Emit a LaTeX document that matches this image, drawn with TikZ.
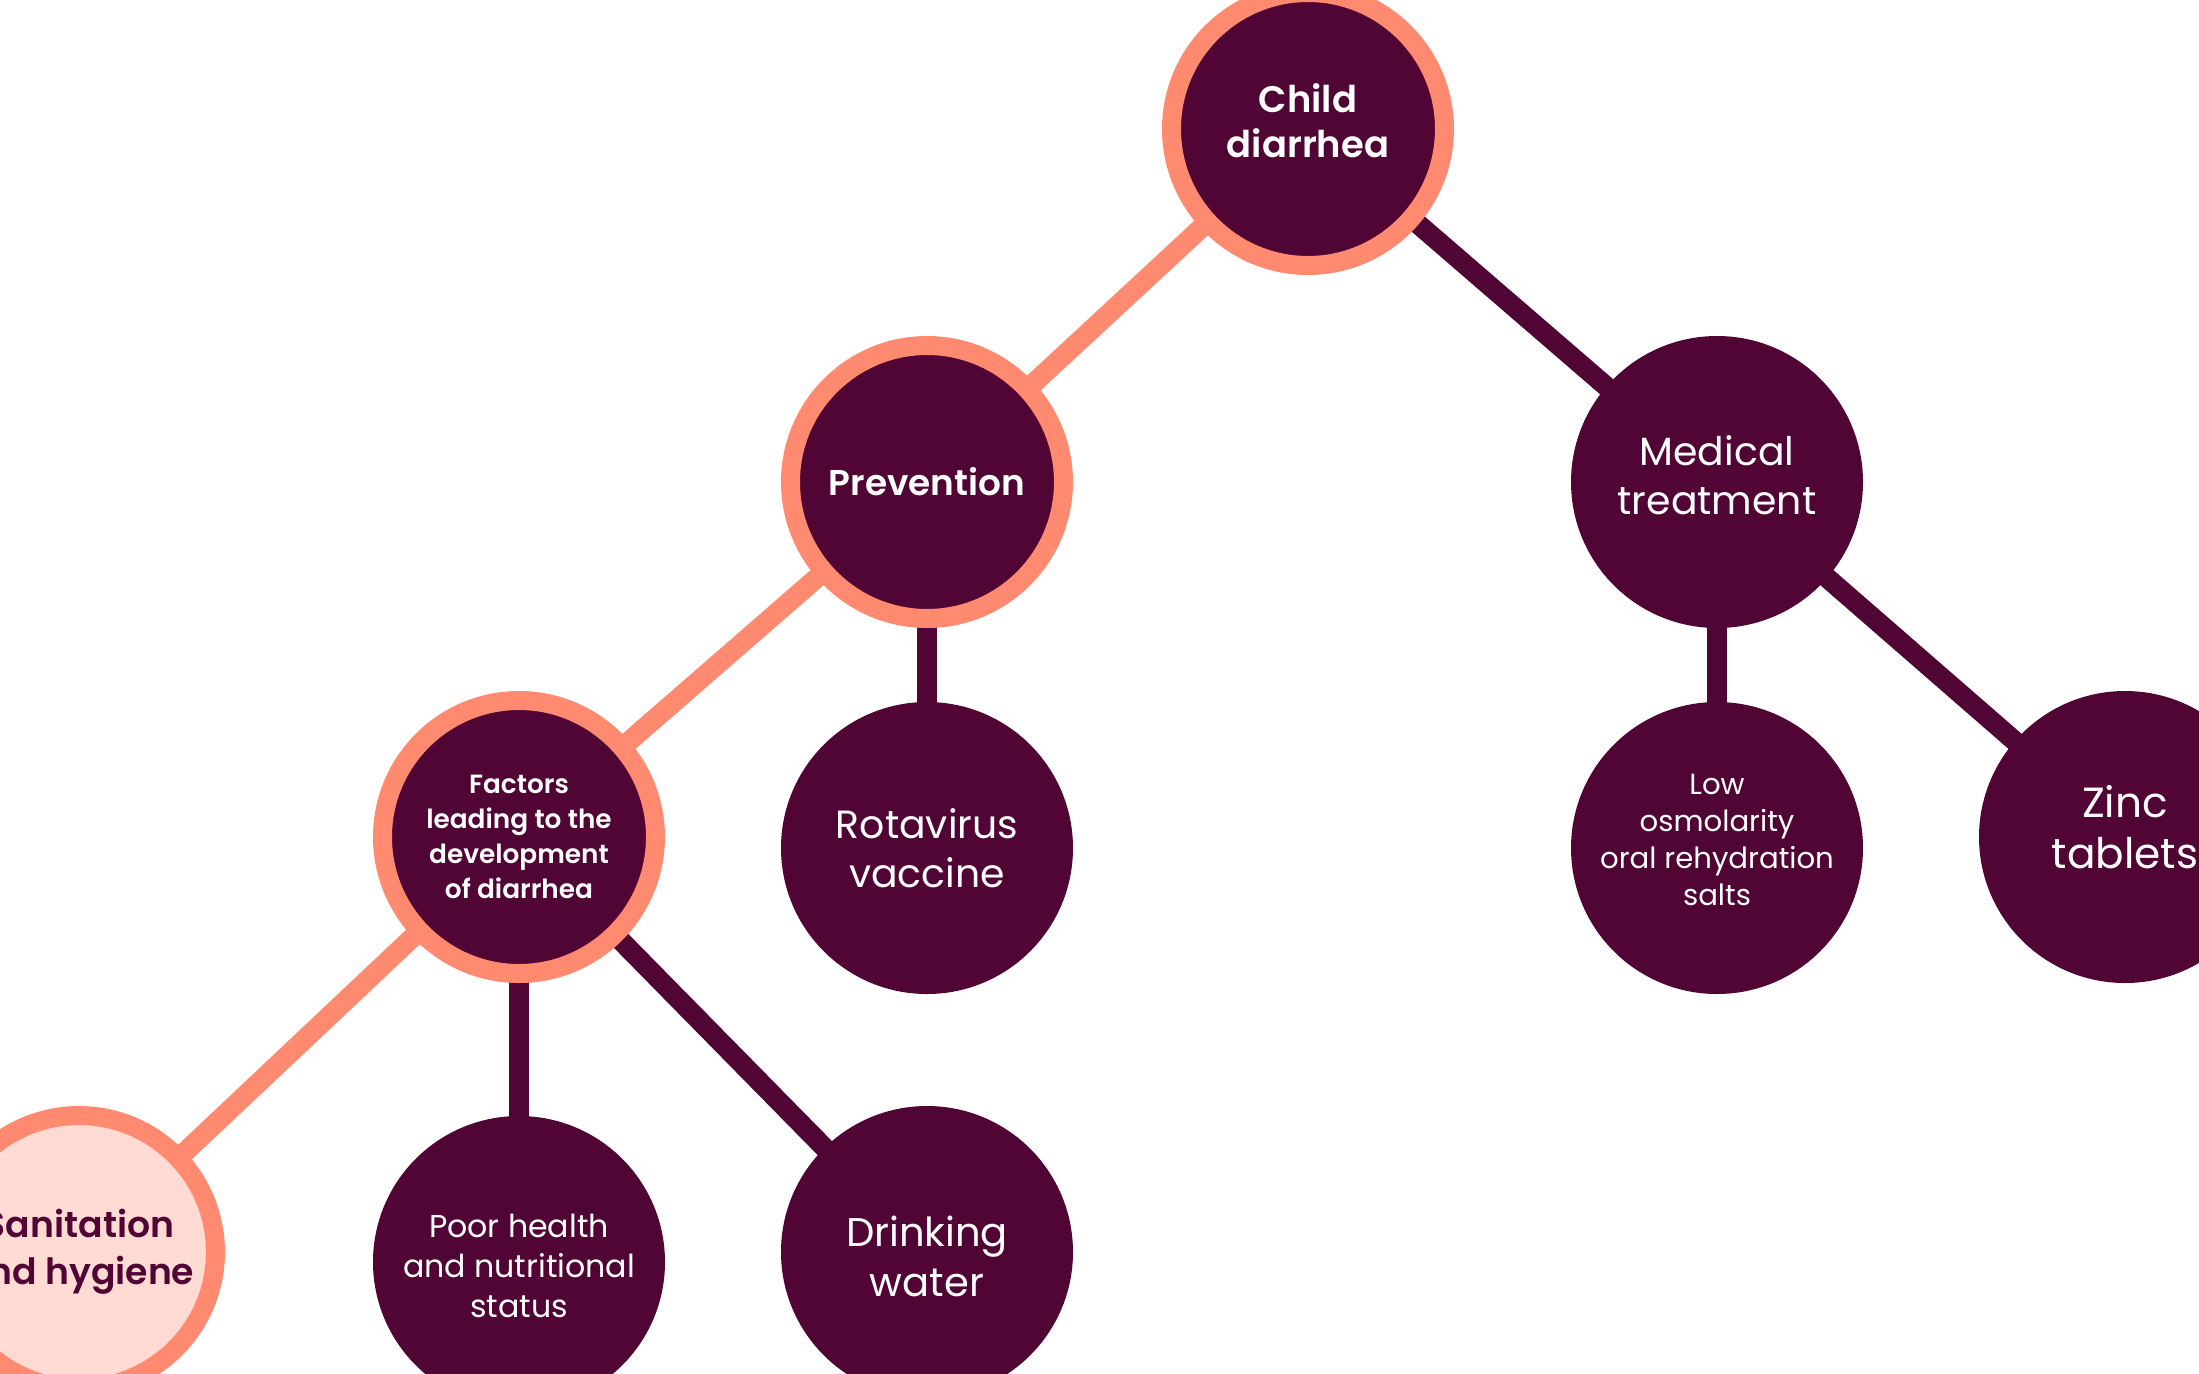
\documentclass[tikz,border=0pt]{standalone}
\usepackage{fontspec}
\setmainfont{Poppins}[BoldFont={Poppins SemiBold}]
\usetikzlibrary{positioning,backgrounds}
\definecolor{plum}{HTML}{500535}
\definecolor{salmon}{HTML}{FF8A70}
\definecolor{blush}{HTML}{FFDBD4}

\begin{document}
\begin{tikzpicture}[on grid,node distance=3.6cm,
    hub/.style={circle,draw=salmon,line width=0.19cm,fill=plum,text=white,
                minimum size=2.73cm,inner sep=0pt,align=center},
    leaf/.style={circle,fill=plum,text=white,minimum size=2.92cm,
                 inner sep=0pt,align=center},
    goal/.style={hub,fill=blush,text=plum},
    hot/.style={draw=salmon,line width=0.2cm},
    cold/.style={draw=plum,line width=0.2cm}]

        \useasboundingbox (0,0) rectangle (21.99,-13.73);

        \node[hub,font=\fontsize{10.5}{13}\selectfont\bfseries] (child) at (13.08,-1.29) {Child\\diarrhea\\[-0.29cm]};
        \node[hub,font=\fontsize{10.2}{13}\selectfont\bfseries] (prev) [below left=3.53cm and 3.81cm of child] {Prevention};
        \node[leaf,font=\fontsize{11.2}{14}\selectfont] (med) [below right=3.53cm and 4.09cm of child] {Medical\\treatment\\[-0.35cm]};

        \node[hub,font=\fontsize{7.5}{10}\selectfont\bfseries] (fact) [below left=3.55cm and 4.08cm of prev] {Factors\\leading to the\\development\\of diarrhea};
        \node[leaf,font=\fontsize{11.2}{14}\selectfont] (rota) [below=3.66cm of prev] {Rotavirus\\vaccine};
        \node[leaf,font=\fontsize{8.3}{10.5}\selectfont] (ors) [below=3.66cm of med] {Low\\osmolarity\\oral rehydration\\salts\\[-0.2cm]};
        \node[leaf,font=\fontsize{12}{14.5}\selectfont] (zinc) [below right=3.55cm and 4.08cm of med] {Zinc\\tablets\\[-0.3cm]};

        \node[goal,font=\fontsize{10.3}{13.5}\selectfont\bfseries] (sani) [below left=4.15cm and 4.40cm of fact] {Sanitation\\and hygiene};
        \node[leaf,font=\fontsize{9}{11.4}\selectfont] (poor) [below=4.25cm of fact] {\\[-0.08cm]Poor health\\and nutritional\\status};
        \node[leaf,font=\fontsize{11.4}{14}\selectfont] (water) [below right=4.15cm and 4.08cm of fact] {\\[-0.1cm]Drinking\\water};

        \begin{scope}[on background layer]
        \path (child.center) edge[hot] (prev.center)
                             edge[cold] (med.center)
              (prev.center)  edge[hot] (fact.center)
                             edge[cold] (rota.center)
              (med.center)   edge[cold] (ors.center)
                             edge[cold] (zinc.center)
              (fact.center)  edge[hot] (sani.center)
                             edge[cold] (poor.center)
                             edge[cold] (water.center);
        \end{scope}
      \end{tikzpicture}
\end{document}
